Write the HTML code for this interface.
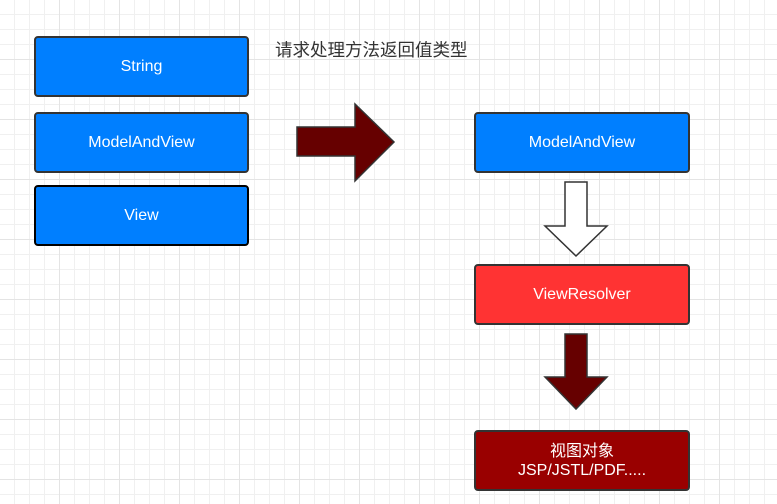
<!DOCTYPE html>
<html><head><meta charset="utf-8"><style>
body{margin:0;width:777px;height:504px;overflow:hidden;background:#fff;
background-image:linear-gradient(#e4e4e4 1px,transparent 1px),linear-gradient(90deg,#e4e4e4 1px,transparent 1px),linear-gradient(#f0f0f0 1px,transparent 1px),linear-gradient(90deg,#f0f0f0 1px,transparent 1px);
background-size:60px 60px,60px 60px,15px 15px,15px 15px;background-position:-1px -1px;
font-family:"Liberation Sans","Noto Sans CJK SC",sans-serif;position:relative}
.b{position:absolute;box-sizing:border-box;border:2px solid #333;border-radius:4px;color:#fff;display:flex;align-items:center;justify-content:center;text-align:center;font-size:16px;line-height:19px}
</style></head><body>
<div class="b" style="left:34px;top:36px;width:215px;height:61px;background:#007fff">String</div>
<div class="b" style="left:34px;top:112px;width:215px;height:61px;background:#007fff">ModelAndView</div>
<div class="b" style="left:34px;top:185px;width:215px;height:61px;background:#007fff;border-color:#000">View</div>
<div class="b" style="left:474px;top:112px;width:216px;height:61px;background:#007fff">ModelAndView</div>
<div class="b" style="left:474px;top:264px;width:216px;height:61px;background:#ff3333">ViewResolver</div>
<div class="b" style="left:474px;top:430px;width:216px;height:61px;background:#990000">视图对象<br>JSP/JSTL/PDF.....</div>
<div style="position:absolute;left:275px;top:37px;font-size:17.5px;color:#333">请求处理方法返回值类型</div>
<svg width="777" height="504" style="position:absolute;left:0;top:0">
<polygon points="297,127 355,127 355,104 394,142 355,181 355,156 297,156" fill="#660000" stroke="#333" stroke-width="1.5"/>
<polygon points="565,182 587,182 587,226 607,226 576,256 545,226 565,226" fill="#fff" stroke="#333" stroke-width="1.5"/>
<polygon points="565,334 587,334 587,377 607,377 576,409 545,377 565,377" fill="#660000" stroke="#333" stroke-width="1.5"/>
</svg>
</body></html>
